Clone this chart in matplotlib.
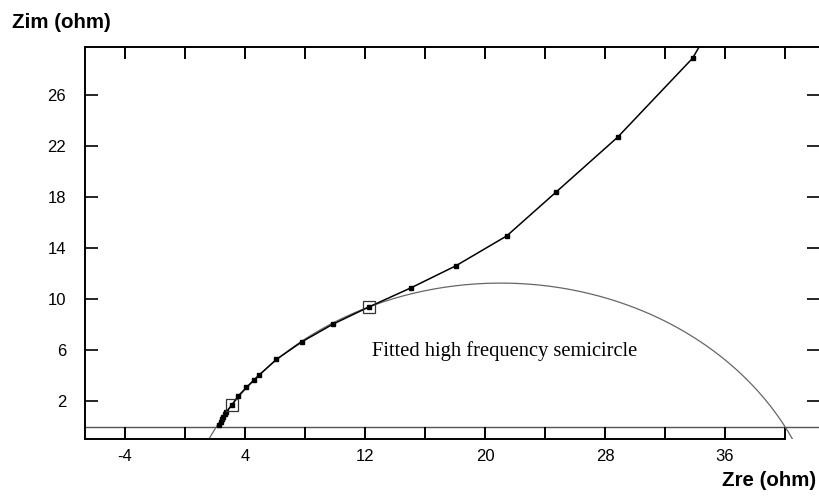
import numpy as np
import matplotlib
matplotlib.use("Agg")
import matplotlib.pyplot as plt

# Measured impedance data (Zre, Zim) in ohm
zre = [2.30, 2.40, 2.48, 2.56, 2.65, 2.75, 3.12, 3.55, 4.10, 4.60, 4.95,
       6.10, 7.80, 9.85, 12.30, 15.07, 18.05, 21.45, 24.75, 28.85, 33.85, 34.45]
zim = [0.15, 0.35, 0.55, 0.75, 0.95, 1.15, 1.68, 2.40, 3.07, 3.65, 4.04,
       5.27, 6.65, 8.02, 9.40, 10.88, 12.60, 14.95, 18.40, 22.70, 28.90, 30.14]

# Highlighted (boxed) data points
box_re = [3.12, 12.30]
box_im = [1.68, 9.40]

# Fitted high-frequency semicircle parameters (centre, radius)
fit_center_re = 21.05
fit_center_im = -10.33
fit_radius = 21.58

x_ticks = [-4, 0, 4, 8, 12, 16, 20, 24, 28, 32, 36, 40]
x_labels = ["-4", "", "4", "", "12", "", "20", "", "28", "", "36", ""]
y_ticks = [2, 6, 10, 14, 18, 22, 26]
y_labels = ["2", "6", "10", "14", "18", "22", "26"]

plt.rcParams['font.family'] = ['Liberation Sans', 'DejaVu Sans']

W, H = 819, 497
fig = plt.figure(figsize=(W / 100, H / 100), dpi=100)
L, R, T, B = 85, 819, 47, 439
ax = fig.add_axes([L / W, 1 - B / H, (R - L) / W, (B - T) / H])

ax.set_xlim(-6.667, 42.27)
ax.set_ylim(-0.98, 29.77)

# zero line
ax.axhline(0, color="#555555", lw=1.0, zorder=1)

# fitted semicircle
theta = np.linspace(-0.05, np.pi + 0.05, 400)
cx = fit_center_re + fit_radius * np.cos(theta)
cy = fit_center_im + fit_radius * np.sin(theta)
ax.plot(cx, cy, color="#666666", lw=0.9, zorder=2)

# data
ax.plot(zre, zim, color="black", lw=1.1, marker="s", ms=3.0,
        mfc="black", mec="black", zorder=3)
ax.plot(box_re, box_im, linestyle="none", marker="s", ms=8,
        mfc="none", mec="#333333", mew=0.9, zorder=4)

ax.text(12.5, 5.92, "Fitted high frequency semicircle",
        family=["Liberation Serif", "DejaVu Serif"], fontsize=14.8,
        ha="left", va="center", color="black")

ax.set_xticks(x_ticks)
ax.set_xticklabels(x_labels)
ax.set_yticks(y_ticks)
ax.set_yticklabels(y_labels)

for s in ["left", "top", "bottom"]:
    ax.spines[s].set_linewidth(1.4)
ax.spines["right"].set_visible(False)
ax.spines["bottom"].set_bounds(-6.667, 40)

ax.tick_params(axis="x", which="both", direction="in", length=8.6, width=1.4,
               top=True, bottom=True, labelsize=12, pad=7)
ax.tick_params(axis="y", which="both", direction="in", length=9, width=1.2,
               left=True, right=True, labelsize=12, pad=13.5)

fig.text(12 / W, 1 - 23 / H, "Zim (ohm)", fontsize=14.8, fontweight="bold",
         ha="left", va="center")
fig.text(816 / W, 1 - 481 / H, "Zre (ohm)", fontsize=14.8, fontweight="bold",
         ha="right", va="center")

fig.savefig("out.png", dpi=100)
